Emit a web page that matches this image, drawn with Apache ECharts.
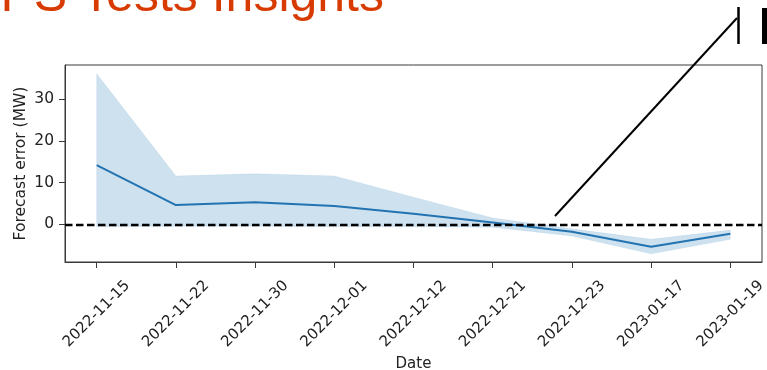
<!DOCTYPE html>
<html>
<head>
<meta charset="utf-8">
<script src="https://cdn.jsdelivr.net/npm/echarts@6/dist/echarts.min.js"></script>
<style>
  html, body { margin: 0; padding: 0; background: #fff; }
  #chart { width: 767px; height: 370px; }
</style>
</head>
<body>
<div id="chart"></div>
<script>
// Test dates on the x axis
const categories = ['2022-11-15', '2022-11-22', '2022-11-30', '2022-12-01', '2022-12-12',
                    '2022-12-21', '2022-12-23', '2023-01-17', '2023-01-19'];
// Mean forecast error per date (MW)
const meanError = [14.2, 4.6, 5.3, 4.4, 2.5, 0.4, -1.8, -5.4, -2.3];
// Confidence band bounds (MW)
const upperBound = [36.1, 11.6, 12.1, 11.6, 6.5, 1.5, -1.1, -3.6, -1.4];
const lowerBound = [-0.6, -0.5, -0.5, -0.6, -0.6, -0.7, -2.8, -7.1, -3.6];
// Y tick labels
const yTicks = [0, 10, 20, 30];

const idx = categories.map((_, i) => i);
const pairs = arr => arr.map((v, i) => [i, v]);
const bandData = upperBound.map((u, i) => [i, u, lowerBound[i]]);

const font = 'DejaVu Sans';
const chart = echarts.init(document.getElementById('chart'), null, { renderer: 'canvas' });

// Shaded band: one polygon through the upper bounds and back along the lower bounds
function renderBand(params, api) {
  if (params.dataIndex !== 0) return null;
  const pts = [];
  for (let i = 0; i < upperBound.length; i++) pts.push(api.coord([i, upperBound[i]]));
  for (let i = lowerBound.length - 1; i >= 0; i--) pts.push(api.coord([i, lowerBound[i]]));
  return {
    type: 'polygon',
    shape: { points: pts },
    style: { fill: 'rgba(31,119,180,0.22)', stroke: 'rgba(31,119,180,0.10)', lineWidth: 0.8 }
  };
}

chart.setOption({
  animation: false,
  backgroundColor: '#fff',
  grid: {
    left: 65, top: 65, right: 5, bottom: 108,
    containLabel: false,
    outerBoundsMode: 'none',
    show: true, borderColor: '#3a3a3a', borderWidth: 1, backgroundColor: 'transparent'
  },
  xAxis: {
    type: 'value',
    min: -0.4, max: 8.4,
    name: 'Date',
    nameLocation: 'middle',
    nameGap: 95,
    nameMoveOverlap: false,
    nameTextStyle: { fontFamily: font, fontSize: 15, color: '#222' },
    axisLine: { show: true, onZero: false, lineStyle: { color: '#3a3a3a', width: 1 } },
    axisTick: { show: true, length: 6, customValues: idx, lineStyle: { color: '#3a3a3a', width: 1 } },
    axisLabel: {
      customValues: idx,
      formatter: v => categories[Math.round(v)],
      rotate: 45,
      align: 'center',
      verticalAlign: 'middle',
      margin: 52,
      fontFamily: font, fontSize: 15, color: '#222'
    },
    splitLine: { show: false }
  },
  yAxis: {
    type: 'value',
    min: -9.05, max: 38.2,
    name: 'Forecast error (MW)',
    nameLocation: 'middle',
    nameGap: 36,
    nameMoveOverlap: false,
    nameTextStyle: { fontFamily: font, fontSize: 15.5, color: '#222' },
    axisLine: { show: true, onZero: false, lineStyle: { color: '#3a3a3a', width: 1 } },
    axisTick: { show: true, length: 6, customValues: yTicks, lineStyle: { color: '#3a3a3a', width: 1 } },
    axisLabel: { customValues: yTicks, margin: 11, fontFamily: font, fontSize: 15.5, color: '#222' },
    splitLine: { show: false }
  },
  series: [
    {
      name: 'band',
      type: 'custom',
      data: bandData,
      renderItem: renderBand,
      encode: { x: 0, y: [1, 2] },
      silent: true,
      clip: true,
      z: 1
    },
    {
      name: 'mean',
      type: 'line',
      data: pairs(meanError),
      symbol: 'none',
      lineStyle: { color: '#2273b0', width: 2 },
      z: 2,
      markLine: {
        silent: true,
        symbol: 'none',
        label: { show: false },
        lineStyle: { color: '#000', width: 2.4, type: [7.5, 3.5] },
        data: [{ yAxis: 0 }],
        z: 3
      }
    }
  ],
  graphic: [
    {
      type: 'text',
      left: 0.5, top: -28,
      style: {
        text: 'PS Tests Insights',
        font: '50px "Liberation Sans", Arial, sans-serif',
        fill: '#D83B01'
      },
      z: 10
    },
    {
      type: 'line',
      shape: { x1: 555, y1: 216, x2: 737, y2: 18 },
      style: { stroke: '#000', lineWidth: 2 },
      z: 10
    },
    {
      type: 'line',
      shape: { x1: 738.5, y1: 7, x2: 738.5, y2: 44 },
      style: { stroke: '#000', lineWidth: 2.5 },
      z: 10
    },
    {
      type: 'rect',
      shape: { x: 762, y: 8, width: 5, height: 36 },
      style: { fill: '#000' },
      z: 10
    }
  ]
});
</script>
</body>
</html>
